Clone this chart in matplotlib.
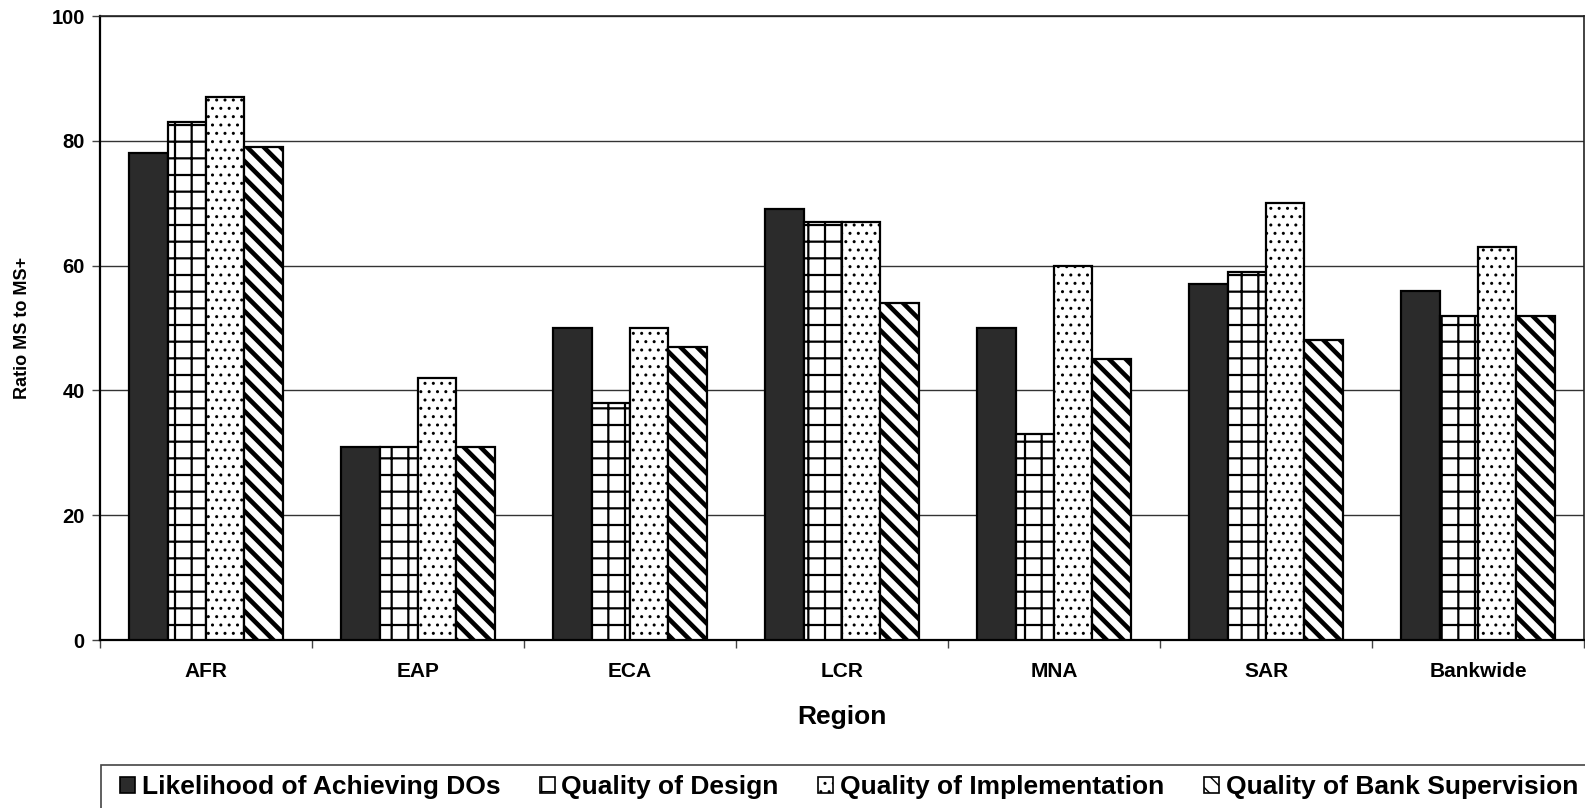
import matplotlib
matplotlib.use("Agg")
import matplotlib.pyplot as plt
from matplotlib.patches import Patch, Rectangle
import numpy as np

regions = ["AFR", "EAP", "ECA", "LCR", "MNA", "SAR", "Bankwide"]
series_names = ["Likelihood of Achieving DOs", "Quality of Design",
                "Quality of Implementation", "Quality of Bank Supervision"]
likelihood = [78, 31, 50, 69, 50, 57, 56]
design = [83, 31, 38, 67, 33, 59, 52]
implementation = [87, 42, 50, 67, 60, 70, 63]
supervision = [79, 31, 47, 54, 45, 48, 52]
yticks = [0, 20, 40, 60, 80, 100]

plt.rcParams["font.family"] = ["Liberation Sans", "DejaVu Sans"]
plt.rcParams["font.weight"] = "bold"

W, H = 1585, 808
fig = plt.figure(figsize=(W / 100, H / 100), dpi=100)
ax = fig.add_axes([100 / W, 1 - 640 / H, (1584 - 100) / W, (640 - 16) / H])

styles = [
    dict(facecolor="#2b2b2b", hatch=None, hlw=1.0),
    dict(facecolor="white", hatch="+", hlw=1.6),
    dict(facecolor="white", hatch="..", hlw=1.0),
    dict(facecolor="white", hatch="\\\\", hlw=3.3),
]
all_values = [likelihood, design, implementation, supervision]
width = 0.181
x = np.arange(len(regions)) + 0.5
for k, (vals, st) in enumerate(zip(all_values, styles)):
    with plt.rc_context({"hatch.linewidth": st["hlw"], "hatch.color": "black"}):
        ax.bar(x + (k - 1.5) * width, vals, width, facecolor=st["facecolor"],
               edgecolor="black", linewidth=1.6, hatch=st["hatch"], zorder=3)

ax.set_xlim(0, len(regions))
ax.set_ylim(0, 100)
ax.set_yticks(yticks)
ax.set_yticklabels([str(v) for v in yticks], fontsize=14.5, fontweight="bold")
ax.yaxis.grid(True, color="#333333", linewidth=1.0, zorder=0)

ax.set_xticks(np.arange(len(regions) + 1))
ax.set_xticklabels([])
ax.set_xticks(x, minor=True)
ax.set_xticklabels(regions, minor=True, fontsize=15, fontweight="bold")
ax.tick_params(axis="x", which="major", length=6, width=1, direction="out", color="#444444")
ax.tick_params(axis="x", which="minor", length=0, pad=15.5)
ax.tick_params(axis="y", length=6, width=1, direction="out", pad=5, color="#444444")

for side in ["left", "bottom"]:
    ax.spines[side].set_linewidth(1.6)
    ax.spines[side].set_color("black")
for side in ["top", "right"]:
    ax.spines[side].set_linewidth(1.2)
    ax.spines[side].set_color("#222222")

ax.set_xlabel("Region", fontsize=19, fontweight="bold", labelpad=17.5)
ax.set_ylabel("Ratio MS to MS+", fontsize=13, fontweight="bold", labelpad=15)

# legend frame runs off the bottom/right of the figure
fig.patches.append(Rectangle((101 / W, -0.05), (1700 - 101) / W, 0.05 + 1 - 765 / H,
                             transform=fig.transFigure, facecolor="none",
                             edgecolor="#444444", linewidth=1.2))

handles = []
for st in styles:
    with plt.rc_context({"hatch.linewidth": 1.0}):
        handles.append(Patch(facecolor=st["facecolor"], edgecolor="black",
                             hatch=st["hatch"], linewidth=1.2))
leg = fig.legend(handles, series_names, loc="center left",
                 bbox_to_anchor=(120 / W, 1 - 787 / H),
                 ncol=4, frameon=False, borderpad=0, borderaxespad=0,
                 handlelength=0.57, handleheight=0.57, handletextpad=0.25,
                 columnspacing=1.5, prop={"weight": "bold", "size": 19})

fig.savefig("out.png", dpi=100)
